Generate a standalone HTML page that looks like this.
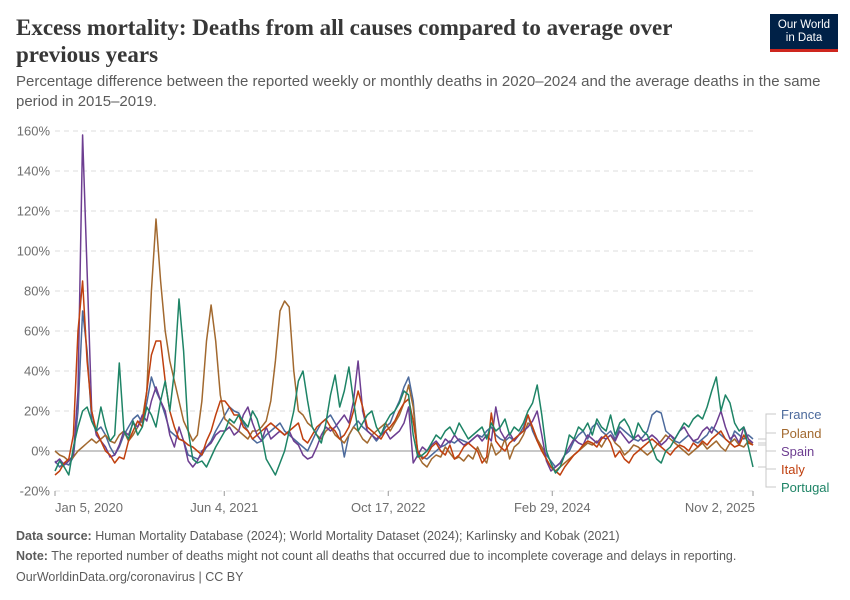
<!DOCTYPE html>
<html><head><meta charset="utf-8">
<style>
body{margin:0;background:#fff;font-family:"Liberation Sans",sans-serif;}
#wrap{position:relative;width:850px;height:600px;overflow:hidden;}
.t{position:absolute;margin:0;}
</style></head>
<body>
<div id="wrap">
<h1 class="t" style="left:16px;top:14px;width:720px;font-family:'Liberation Serif',serif;font-weight:bold;font-size:23px;line-height:27px;color:#373737;">Excess mortality: Deaths from all causes compared to average over previous years</h1>
<p class="t" style="left:16px;top:72px;width:810px;font-size:15px;line-height:20px;color:#5b5b5b;">Percentage difference between the reported weekly or monthly deaths in 2020–2024 and the average deaths in the same period in 2015–2019.</p>
<div class="t" style="left:770px;top:14px;width:68px;height:38px;background:#002147;border-bottom:3px solid #ce261e;color:#fff;font-size:11.5px;line-height:13px;text-align:center;padding-top:5px;box-sizing:border-box;">Our World<br>in Data</div>
<svg id="chart" width="850" height="600" style="position:absolute;left:0;top:0;"></svg>
<p class="t" style="left:16px;top:529px;font-size:12.5px;color:#5b5b5b;"><b>Data source:</b> Human Mortality Database (2024); World Mortality Dataset (2024); Karlinsky and Kobak (2021)</p>
<p class="t" style="left:16px;top:549px;font-size:12.5px;color:#5b5b5b;"><b>Note:</b> The reported number of deaths might not count all deaths that occurred due to incomplete coverage and delays in reporting.</p>
<p class="t" style="left:16px;top:570px;font-size:12.5px;color:#5b5b5b;">OurWorldinData.org/coronavirus | CC BY</p>
</div>
<script>
const yTicks=[-20,0,20,40,60,80,100,120,140,160];
const xTickLabels=["Jan 5, 2020","Jun 4, 2021","Oct 17, 2022","Feb 29, 2024","Nov 2, 2025"];
const xTickDays=[0,516,1016,1516,2128];
const stepDays=14;
const seriesNames=["France","Poland","Spain","Italy","Portugal"];
const france=[-5,-8,-6,-7,-3,20,70,50,15,10, 12,8,2,-2,2,8,12,16,18,14, 24,37,30,25,18,10,8,6,5,-2, -3,-4,-2,2,5,10,14,18,22,20, 19,14,10,6,4,5,8,10,12,14, 10,8,6,4,2,0,5,10,14,16, 18,14,10,-3,8,12,15,12,10,8, 5,8,12,14,20,25,32,37,25,-2, -3,-4,-2,0,2,3,5,4,6,5, 4,6,8,7,10,12,8,6,5,7, 5,8,12,18,10,5,2,-2,-5,-8, -6,-2,0,5,8,10,6,12,14,10, 8,10,6,12,10,8,6,5,7,10, 18,20,19,10,8,5,4,6,8,5, 4,6,8,12,10,8,6,4,10,8, 6,8,6];
const poland=[0,-2,-3,-5,-3,0,2,4,6,4, 6,8,5,4,8,10,5,8,12,16, 30,80,116,85,60,45,35,25,15,10, 5,8,25,55,73,55,28,16,14,12, 10,8,6,10,10,12,15,25,45,70, 75,72,40,20,18,14,12,8,6,10, 12,8,6,4,8,12,10,6,4,8, 10,12,14,10,14,18,24,33,22,-2, -6,-8,-4,-2,-3,2,-1,-4,-3,-5, -2,-4,2,-3,-6,4,-2,0,6,-4, 2,4,8,14,12,6,2,-4,-8,-10, -8,-6,-4,-2,0,2,4,3,5,2, 6,8,4,2,-2,0,3,2,0,-2, 0,3,5,8,6,4,2,0,-2,0, 2,4,1,3,5,2,0,4,6,3, 2,5,3];
const spain=[-6,-4,-7,-5,-2,30,158,90,20,8, 5,2,-3,-2,3,10,8,14,12,18, 15,25,32,25,20,8,2,12,5,-5, -8,-5,0,2,4,8,10,10,12,8, 10,18,22,14,8,5,12,6,8,10, 8,10,5,3,-2,-4,-3,2,8,12, 10,12,15,18,14,25,45,20,10,8, 6,8,10,6,8,10,14,22,-6,-2, 2,0,3,5,2,6,4,8,5,3, 4,6,8,5,8,5,22,10,6,9, 5,8,10,12,15,20,8,-5,-10,-8, -6,-2,2,6,4,3,8,6,4,7, 6,8,5,10,7,4,6,8,5,6, 8,6,3,5,8,6,10,12,8,5, 6,10,12,9,14,20,12,6,8,4, 12,6,4];
const italy=[-12,-10,-6,-4,8,60,85,45,20,10, 5,0,-2,-6,-3,-4,5,10,15,12, 30,48,55,55,35,20,12,6,5,3, 2,0,-2,5,10,18,25,25,22,18, 18,12,10,6,8,10,12,14,12,10, 8,10,12,14,6,4,8,12,14,16, 12,10,6,8,12,20,30,22,12,10, 8,6,10,12,15,20,24,26,15,0, -4,-2,2,4,0,-2,3,-4,-2,2, 4,2,0,-6,-3,19,5,2,0,4, 6,8,10,18,12,5,0,-4,-8,-10, -12,-8,-5,-2,0,3,5,4,2,6, 8,4,-3,0,-4,-6,-2,0,2,4, 6,4,2,0,-2,1,3,2,0,4, 2,5,3,6,8,10,6,4,2,3, 8,4,3];
const portugal=[-10,-5,-8,-12,2,12,20,22,15,10, 22,12,5,8,44,10,6,15,8,12, 22,18,12,25,35,20,40,76,50,10, -4,-6,-5,-8,-3,2,6,10,16,14, 18,15,12,20,16,8,-4,-8,-12,-6, 0,10,20,35,40,25,12,8,4,14, 28,38,22,30,42,25,10,14,18,20, 12,8,14,18,20,24,30,28,8,-3, -2,0,4,8,6,10,12,8,14,10, 6,8,10,12,6,14,10,12,16,8, 12,10,14,20,24,33,18,0,-6,-11, -8,-2,8,6,12,10,14,8,16,12, 10,18,8,14,16,12,6,14,10,8, 2,-4,-6,0,2,6,10,14,12,16, 18,16,22,30,37,20,28,24,14,10, 12,2,-8];
const seriesData=[france,poland,spain,italy,portugal];
const colors=["#4c6a9c","#a2692f","#6d3e91","#c0400f","#1e8466"];
const labelY=[418,437,455,473,491];

const svg=document.getElementById('chart');
const NS="http://www.w3.org/2000/svg";
const X0=55,X1=753,Y0=451;
const pxPerDay=(X1-X0)/2128;
function xScale(d){return X0+d*pxPerDay;}
function yScale(v){return Y0-v*2;}
function mk(tag,attrs){const e=document.createElementNS(NS,tag);for(const k in attrs)e.setAttribute(k,attrs[k]);svg.appendChild(e);return e;}

yTicks.forEach(v=>{
  const g=mk('line',{x1:X0,x2:757,y1:yScale(v),y2:yScale(v),stroke:v===0?'#b5b5b5':'#dddddd','stroke-width':v===0?1.5:1,'stroke-dasharray':v===0?'none':'5,4'});
  
  
  const t=mk('text',{x:50,y:yScale(v)+4.5,'text-anchor':'end','font-size':13,fill:'#6e6e6e','font-family':'Liberation Sans, sans-serif'});
  t.textContent=v+'%';
  
  
});
xTickLabels.forEach((lab,i)=>{
  const x=xScale(xTickDays[i]);
  const tk=mk('line',{x1:x,x2:x,y1:491,y2:496,stroke:'#999'});
  
  
  const anchor=i===0?'start':(i===xTickLabels.length-1?'end':'middle');
  const t=mk('text',{x:i===xTickLabels.length-1?x+2:x,y:512,'text-anchor':anchor,'font-size':13,fill:'#6e6e6e','font-family':'Liberation Sans, sans-serif'});
  t.textContent=lab;
  
  
});
seriesData.forEach((arr,s)=>{
  const pts=arr.map((v,i)=>xScale(i*stepDays).toFixed(1)+','+yScale(v).toFixed(1)).join(' ');
  const p=mk('polyline',{points:pts,fill:'none',stroke:colors[s],'stroke-width':1.5,'stroke-linejoin':'round'});
  
  
});
seriesData.forEach((arr,s)=>{
  const ey=yScale(arr[arr.length-1]);
  const c=mk('polyline',{points:`758,${ey} 766,${ey} 766,${labelY[s]-4} 776,${labelY[s]-4}`,fill:'none',stroke:'#c8c8c8','stroke-width':1});
  
  
  const t=mk('text',{x:781,y:labelY[s]+1,'font-size':13,fill:colors[s],'font-family':'Liberation Sans, sans-serif'});
  t.textContent=seriesNames[s];
  
  
});
</script>
</body></html>
